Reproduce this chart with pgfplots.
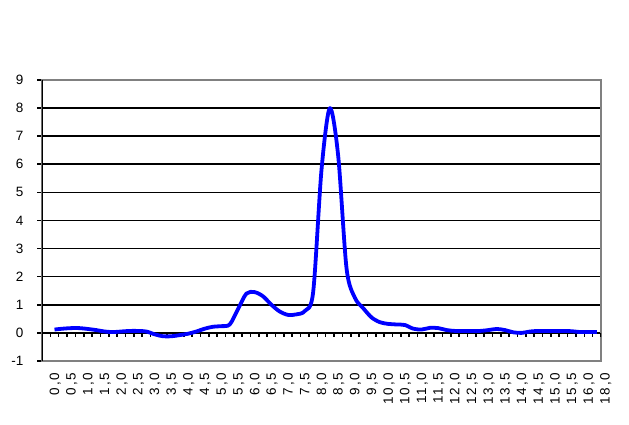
\documentclass[border=0pt]{standalone}
\usepackage{pgfplots}
\pgfplotsset{compat=1.18}
\usepackage{fontspec}
\setmainfont{Liberation Sans}
\newfontfamily\xlabfont[LetterSpace=14]{Liberation Sans}
\definecolor{excelblue}{RGB}{0,0,255}
\definecolor{bordergray}{RGB}{128,128,128}
\pgfplotstableread{
x y
1 0.12
2 0.15
3 0.17
4 0.17
5 0.14
6 0.10
7 0.05
8 0.03
9 0.05
10 0.07
11 0.07
12 0.05
13 -0.05
14 -0.12
15 -0.12
16 -0.08
17 -0.03
18 0.05
19 0.15
20 0.22
21 0.24
22 0.30
23 0.85
24 1.40
25 1.45
26 1.30
27 1.00
28 0.76
29 0.64
30 0.66
31 0.78
32 1.45
33 5.80
34 8.00
35 6.30
36 2.30
37 1.25
38 0.88
39 0.55
40 0.38
41 0.32
42 0.30
43 0.28
44 0.15
45 0.12
46 0.18
47 0.17
48 0.10
49 0.07
50 0.07
51 0.07
52 0.07
53 0.10
54 0.14
55 0.10
56 0.02
57 0.00
58 0.05
59 0.07
60 0.07
61 0.07
62 0.07
63 0.06
64 0.03
65 0.03
66 0.03
}\datatable
\begin{document}
\begin{tikzpicture}
\useasboundingbox (-42pt,-64pt) rectangle (587pt,361pt);
\begin{axis}[
  at={(0,0)}, anchor=south west,
  scale only axis, width=559pt, height=281pt,
  xmin=-0.5, xmax=66.5, ymin=-1, ymax=9,
  axis line style={bordergray, line width=1.6pt},
  ytick={-1,0,...,9}, yticklabels={-1,0,1,2,3,4,5,6,7,8,9},
  ymajorgrids, major grid style={black, line width=1.6pt},
  ytick pos=left, tick align=outside,
  ytick style={black, line width=1.6pt}, major tick length=5pt,
  xtick={0,2,...,66},
  xticklabels={{0,0},{0,5},{1,0},{1,5},{2,0},{2,5},{3,0},{3,5},{4,0},{4,5},{5,0},{5,5},{6,0},{6,5},{7,0},{7,5},{8,0},{8,5},{9,0},{9,5},{10,0},{10,5},{11,0},{11,5},{12,0},{12,5},{13,0},{13,5},{14,0},{14,5},{15,0},{15,5},{16,0},{18,0}},
  xtick style={draw=none},
  xticklabel style={rotate=90, anchor=east, font=\xlabfont\fontsize{13.5}{13.5}\selectfont, yshift=-9pt, xshift=-3pt},
  yticklabel style={font=\fontsize{13.5}{13.5}\selectfont, xshift=-10pt},
]
\pgfplotsinvokeforeach{0.5,1.5,...,66.5}{\draw[black, line width=1.6pt] (axis cs:#1,0) -- (axis cs:#1,-0.16);}
\draw[black, line width=1.6pt] (axis cs:-0.5,-1) -- (axis cs:-0.5,9);
\addplot[excelblue, line width=3.8pt, smooth, tension=0.5, line join=round] table[x=x, y=y] {\datatable};
\end{axis}
\end{tikzpicture}
\end{document}
